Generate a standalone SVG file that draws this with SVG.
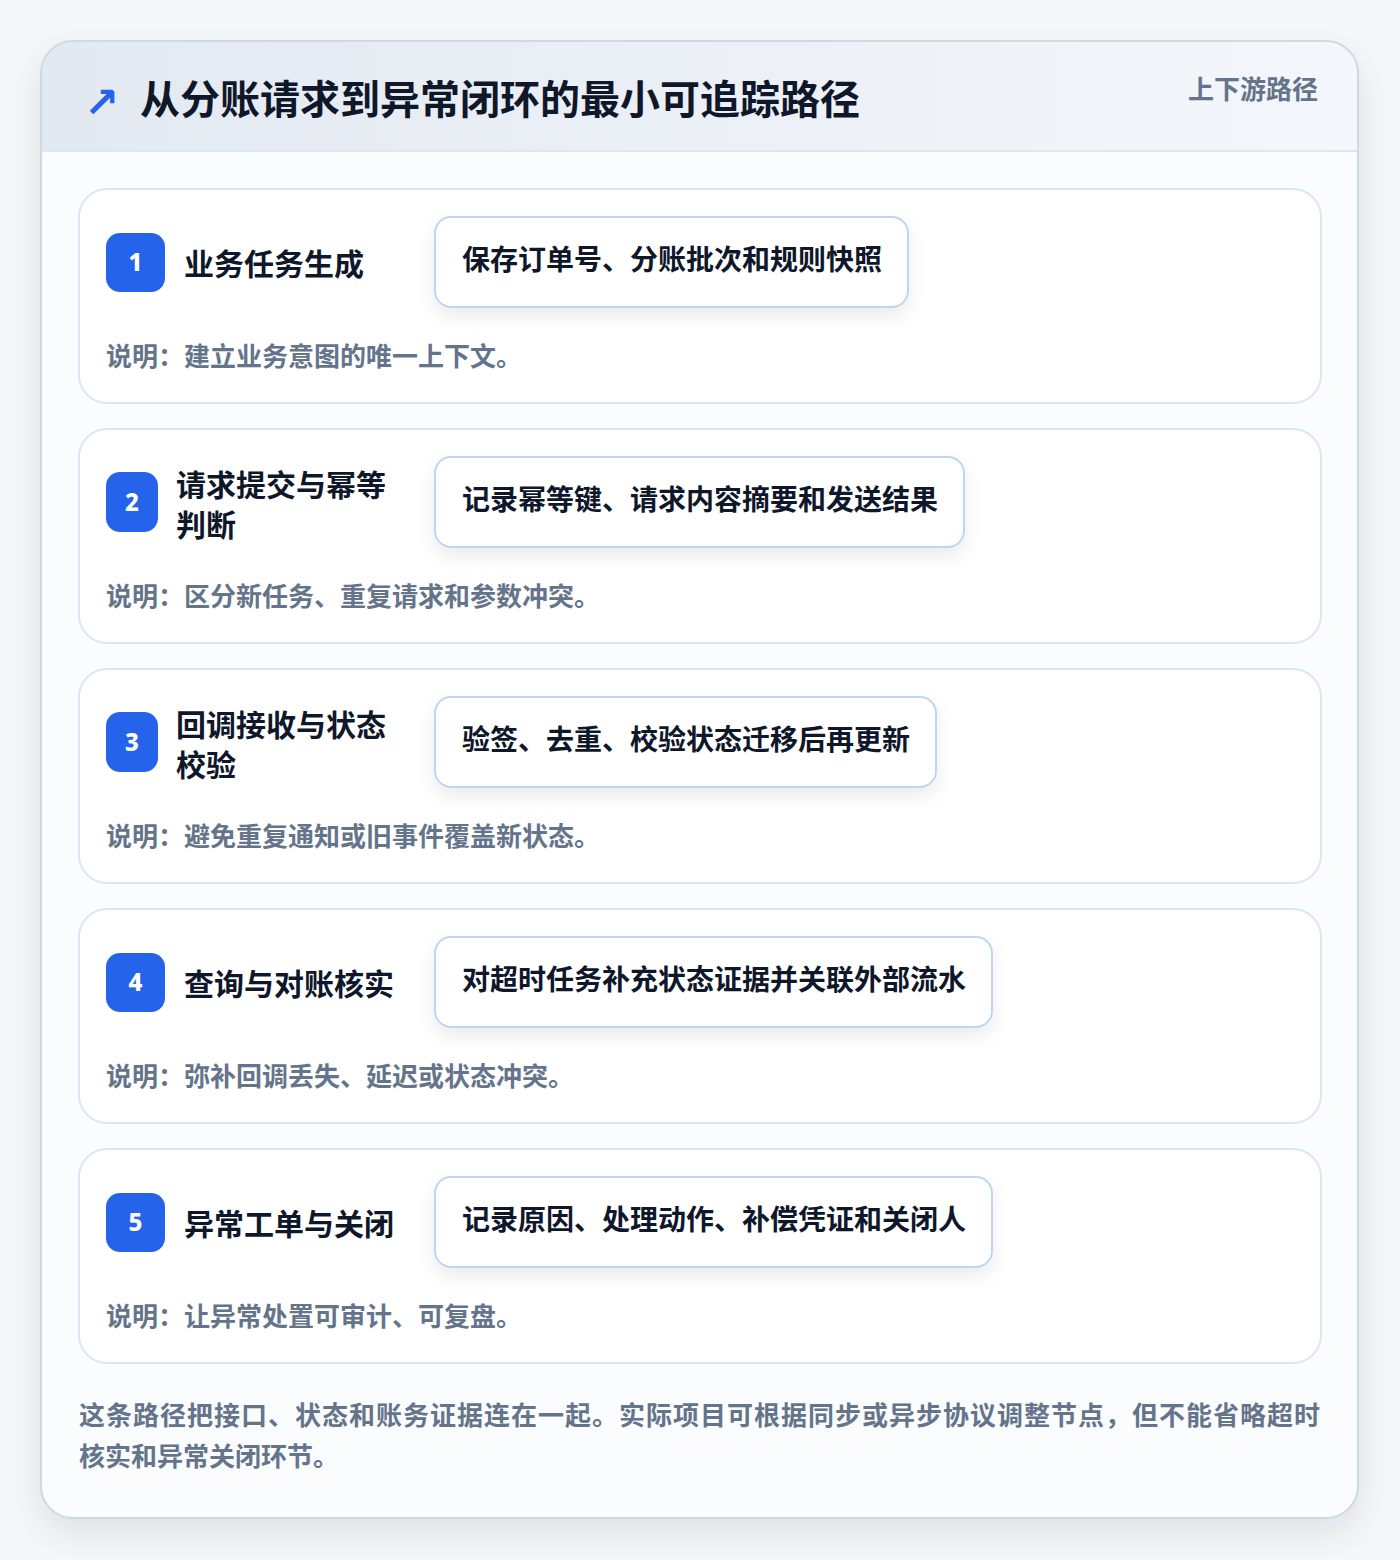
<svg xmlns="http://www.w3.org/2000/svg" width="1400" height="1560" viewBox="0 0 1400 1560">
<defs>
<linearGradient id="hdr" x1="0" y1="0" x2="1" y2="0">
<stop offset="0" stop-color="#e3e9f1"/>
<stop offset="1" stop-color="#f4f7fb"/>
</linearGradient>
<filter id="outerShadow" x="-10%" y="-10%" width="120%" height="120%">
<feDropShadow dx="0" dy="14" stdDeviation="18" flood-color="#0f172a" flood-opacity="0.10"/>
</filter>
<filter id="pillShadow" x="-10%" y="-30%" width="120%" height="180%">
<feDropShadow dx="0" dy="8" stdDeviation="9" flood-color="#0f172a" flood-opacity="0.08"/>
</filter>
<clipPath id="cardClip"><rect x="41" y="41" width="1317" height="1477" rx="32"/></clipPath>
</defs>
<style>
.cjk{font-family:"Noto Sans CJK SC","Noto Sans",sans-serif;font-weight:700}
.title{font-size:40px;fill:#0f172a}
.tag{font-size:26px;fill:#64748b}
.card{fill:#ffffff;stroke:#dbe7f6;stroke-width:2}
.badge{fill:#2563eb}
.num{font-family:"Noto Sans","Open Sans",sans-serif;font-weight:800;font-size:24px;fill:#ffffff}
.stitle{font-size:30px;fill:#0f172a}
.pill{fill:#ffffff;stroke:#bfd6f3;stroke-width:2}
.ptext{font-size:28px;fill:#0f172a}
.desc{font-size:26px;fill:#64748b}
.foot{font-size:26px;fill:#64748b}
</style>
<rect x="0" y="0" width="1400" height="1560" fill="#f6f7f9"/>
<g id="frame">
<rect x="41" y="41" width="1317" height="1477" rx="32" fill="#fbfcfe" filter="url(#outerShadow)"/>
<g clip-path="url(#cardClip)">
<rect x="41" y="41" width="1317" height="110" fill="url(#hdr)"/>
<line x1="41" y1="151" x2="1358" y2="151" stroke="#dbe7f6" stroke-width="2"/>
</g>
<rect x="41" y="41" width="1317" height="1477" rx="32" fill="none" stroke="#cfd9e6" stroke-width="2"/>
</g>
<g id="header">
<text x="84" y="117" font-family="'DejaVu Sans',sans-serif" font-weight="700" font-size="42" fill="#2563eb">↗</text>
<text class="cjk title" x="140" y="114">从分账请求到异常闭环的最小可追踪路径</text>
<text class="cjk tag" x="1318" y="99" text-anchor="end">上下游路径</text>
</g>
<g id="connectors"></g>
<g id="step1">
<rect class="card" x="79" y="189" width="1242" height="214" rx="28"/>
<rect class="badge" x="106" y="233" width="59" height="59" rx="14"/>
<text class="num" x="135.5" y="271" text-anchor="middle">1</text>
<text class="cjk stitle" x="184" y="275">业务任务生成</text>
<rect class="pill" x="435" y="217" width="473" height="90" rx="16" filter="url(#pillShadow)"/>
<text class="cjk ptext" x="462" y="270">保存订单号、分账批次和规则快照</text>
<text class="cjk desc" x="106" y="366">说明：建立业务意图的唯一上下文。</text>
</g>
<g id="step2">
<rect class="card" x="79" y="429" width="1242" height="214" rx="28"/>
<rect class="badge" x="106" y="472" width="52" height="60" rx="14"/>
<text class="num" x="132" y="511" text-anchor="middle">2</text>
<text class="cjk stitle" x="176" y="496">请求提交与幂等</text>
<text class="cjk stitle" x="176" y="536">判断</text>
<rect class="pill" x="435" y="457" width="529" height="90" rx="16" filter="url(#pillShadow)"/>
<text class="cjk ptext" x="462" y="510">记录幂等键、请求内容摘要和发送结果</text>
<text class="cjk desc" x="106" y="606">说明：区分新任务、重复请求和参数冲突。</text>
</g>
<g id="step3">
<rect class="card" x="79" y="669" width="1242" height="214" rx="28"/>
<rect class="badge" x="106" y="712" width="52" height="60" rx="14"/>
<text class="num" x="132" y="751" text-anchor="middle">3</text>
<text class="cjk stitle" x="176" y="736">回调接收与状态</text>
<text class="cjk stitle" x="176" y="776">校验</text>
<rect class="pill" x="435" y="697" width="501" height="90" rx="16" filter="url(#pillShadow)"/>
<text class="cjk ptext" x="462" y="750">验签、去重、校验状态迁移后再更新</text>
<text class="cjk desc" x="106" y="846">说明：避免重复通知或旧事件覆盖新状态。</text>
</g>
<g id="step4">
<rect class="card" x="79" y="909" width="1242" height="214" rx="28"/>
<rect class="badge" x="106" y="953" width="59" height="59" rx="14"/>
<text class="num" x="135.5" y="991" text-anchor="middle">4</text>
<text class="cjk stitle" x="184" y="995">查询与对账核实</text>
<rect class="pill" x="435" y="937" width="557" height="90" rx="16" filter="url(#pillShadow)"/>
<text class="cjk ptext" x="462" y="990">对超时任务补充状态证据并关联外部流水</text>
<text class="cjk desc" x="106" y="1086">说明：弥补回调丢失、延迟或状态冲突。</text>
</g>
<g id="step5">
<rect class="card" x="79" y="1149" width="1242" height="214" rx="28"/>
<rect class="badge" x="106" y="1193" width="59" height="59" rx="14"/>
<text class="num" x="135.5" y="1231" text-anchor="middle">5</text>
<text class="cjk stitle" x="184" y="1235">异常工单与关闭</text>
<rect class="pill" x="435" y="1177" width="557" height="90" rx="16" filter="url(#pillShadow)"/>
<text class="cjk ptext" x="462" y="1230">记录原因、处理动作、补偿凭证和关闭人</text>
<text class="cjk desc" x="106" y="1326">说明：让异常处置可审计、可复盘。</text>
</g>
<g id="footer">
<text class="cjk foot" x="79" y="1425" textLength="1241" lengthAdjust="spacing">这条路径把接口、状态和账务证据连在一起。实际项目可根据同步或异步协议调整节点，但不能省略超时</text>
<text class="cjk foot" x="79" y="1466">核实和异常关闭环节。</text>
</g>
</svg>
